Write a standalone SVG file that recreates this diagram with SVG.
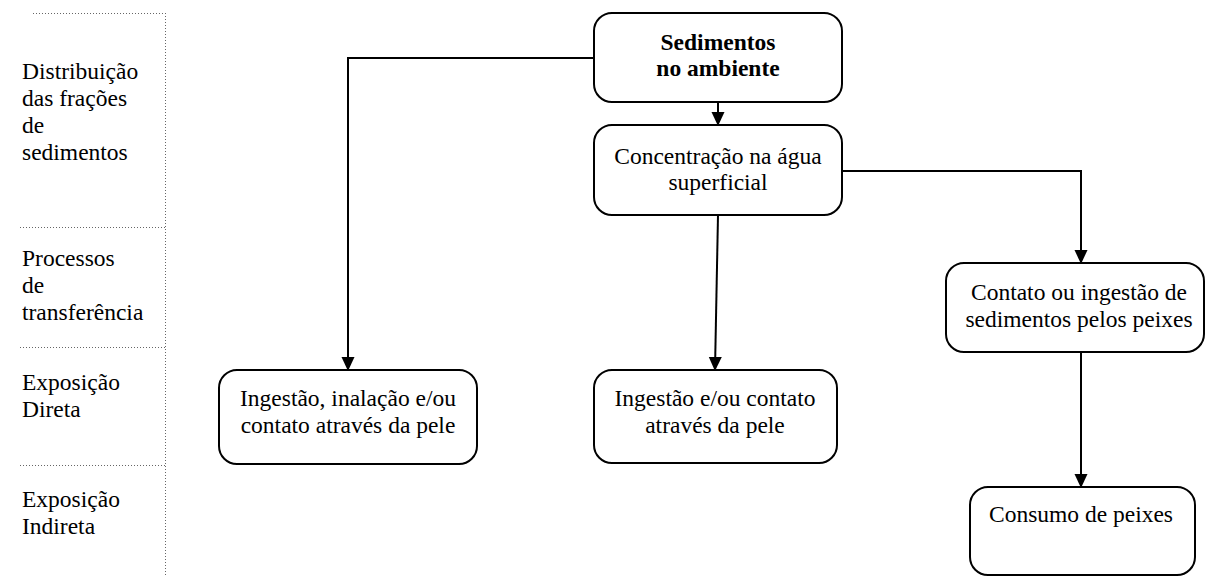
<svg xmlns="http://www.w3.org/2000/svg" width="1205" height="576" viewBox="0 0 1205 576">
<defs>
<marker id="arr" markerWidth="14" markerHeight="15" refX="14" refY="7" orient="auto" markerUnits="userSpaceOnUse" viewBox="0 0 15 14">
<path d="M0,0 L15,7 L0,14 Z" fill="#000"/>
</marker>
<style>
.box{fill:#fff;stroke:#000;stroke-width:2}
.t{font-family:"Liberation Serif","Times New Roman",serif;font-size:23.5px;fill:#000;text-anchor:middle}
.b{font-weight:bold}
.lab{font-family:"Liberation Serif","Times New Roman",serif;font-size:23.5px;fill:#000}
.dot{stroke:#666;stroke-width:1;stroke-dasharray:1 2;fill:none}
.c{stroke:#000;stroke-width:2;fill:none}
</style>
</defs>
<rect width="1205" height="576" fill="#fff"/>
<g id="legend">
<line class="dot" x1="33" y1="13.5" x2="165" y2="13.5"/>
<line class="dot" x1="165.5" y1="13" x2="165.5" y2="576"/>
<line class="dot" x1="20" y1="227.5" x2="165" y2="227.5"/>
<line class="dot" x1="20" y1="347.5" x2="165" y2="347.5"/>
<line class="dot" x1="20" y1="465.5" x2="165" y2="465.5"/>
<text class="lab"><tspan x="22" y="79">Distribuição</tspan><tspan x="22" y="106">das frações</tspan><tspan x="22" y="133">de</tspan><tspan x="22" y="160">sedimentos</tspan></text>
<text class="lab"><tspan x="22" y="266">Processos</tspan><tspan x="22" y="293">de</tspan><tspan x="22" y="320">transferência</tspan></text>
<text class="lab"><tspan x="22" y="390">Exposição</tspan><tspan x="22" y="417">Direta</tspan></text>
<text class="lab"><tspan x="22" y="507">Exposição</tspan><tspan x="22" y="534">Indireta</tspan></text>
</g>
<g id="connectors">
<line class="c" x1="718" y1="102" x2="718" y2="125" marker-end="url(#arr)"/>
<polyline class="c" points="594,58 348,58 348,370" marker-end="url(#arr)"/>
<line class="c" x1="718" y1="215" x2="715" y2="370" marker-end="url(#arr)"/>
<polyline class="c" points="842,171 1081,171 1081,263" marker-end="url(#arr)"/>
<line class="c" x1="1081" y1="352" x2="1081" y2="487" marker-end="url(#arr)"/>
</g>
<g id="n1">
<rect class="box" x="594" y="13" width="248" height="89" rx="18"/>
<text class="t b" x="718" y="50">Sedimentos</text>
<text class="t b" x="718" y="76">no ambiente</text>
</g>
<g id="n2">
<rect class="box" x="594" y="125" width="248" height="90" rx="18"/>
<text class="t" x="718" y="164">Concentração na água</text>
<text class="t" x="718" y="190">superficial</text>
</g>
<g id="n3">
<rect class="box" x="219" y="370" width="258" height="94" rx="18"/>
<text class="t" x="348" y="406">Ingestão, inalação e/ou</text>
<text class="t" x="348" y="433">contato através da pele</text>
</g>
<g id="n4">
<rect class="box" x="594" y="370" width="243" height="93" rx="18"/>
<text class="t" x="715" y="406">Ingestão e/ou contato</text>
<text class="t" x="715" y="433">através da pele</text>
</g>
<g id="n5">
<rect class="box" x="946" y="263" width="258" height="89" rx="18"/>
<text class="t" x="1079" y="300">Contato ou ingestão de</text>
<text class="t" x="1079" y="327">sedimentos pelos peixes</text>
</g>
<g id="n6">
<rect class="box" x="970" y="487" width="225" height="88" rx="18"/>
<text class="t" x="1081" y="522">Consumo de peixes</text>
</g>
</svg>
